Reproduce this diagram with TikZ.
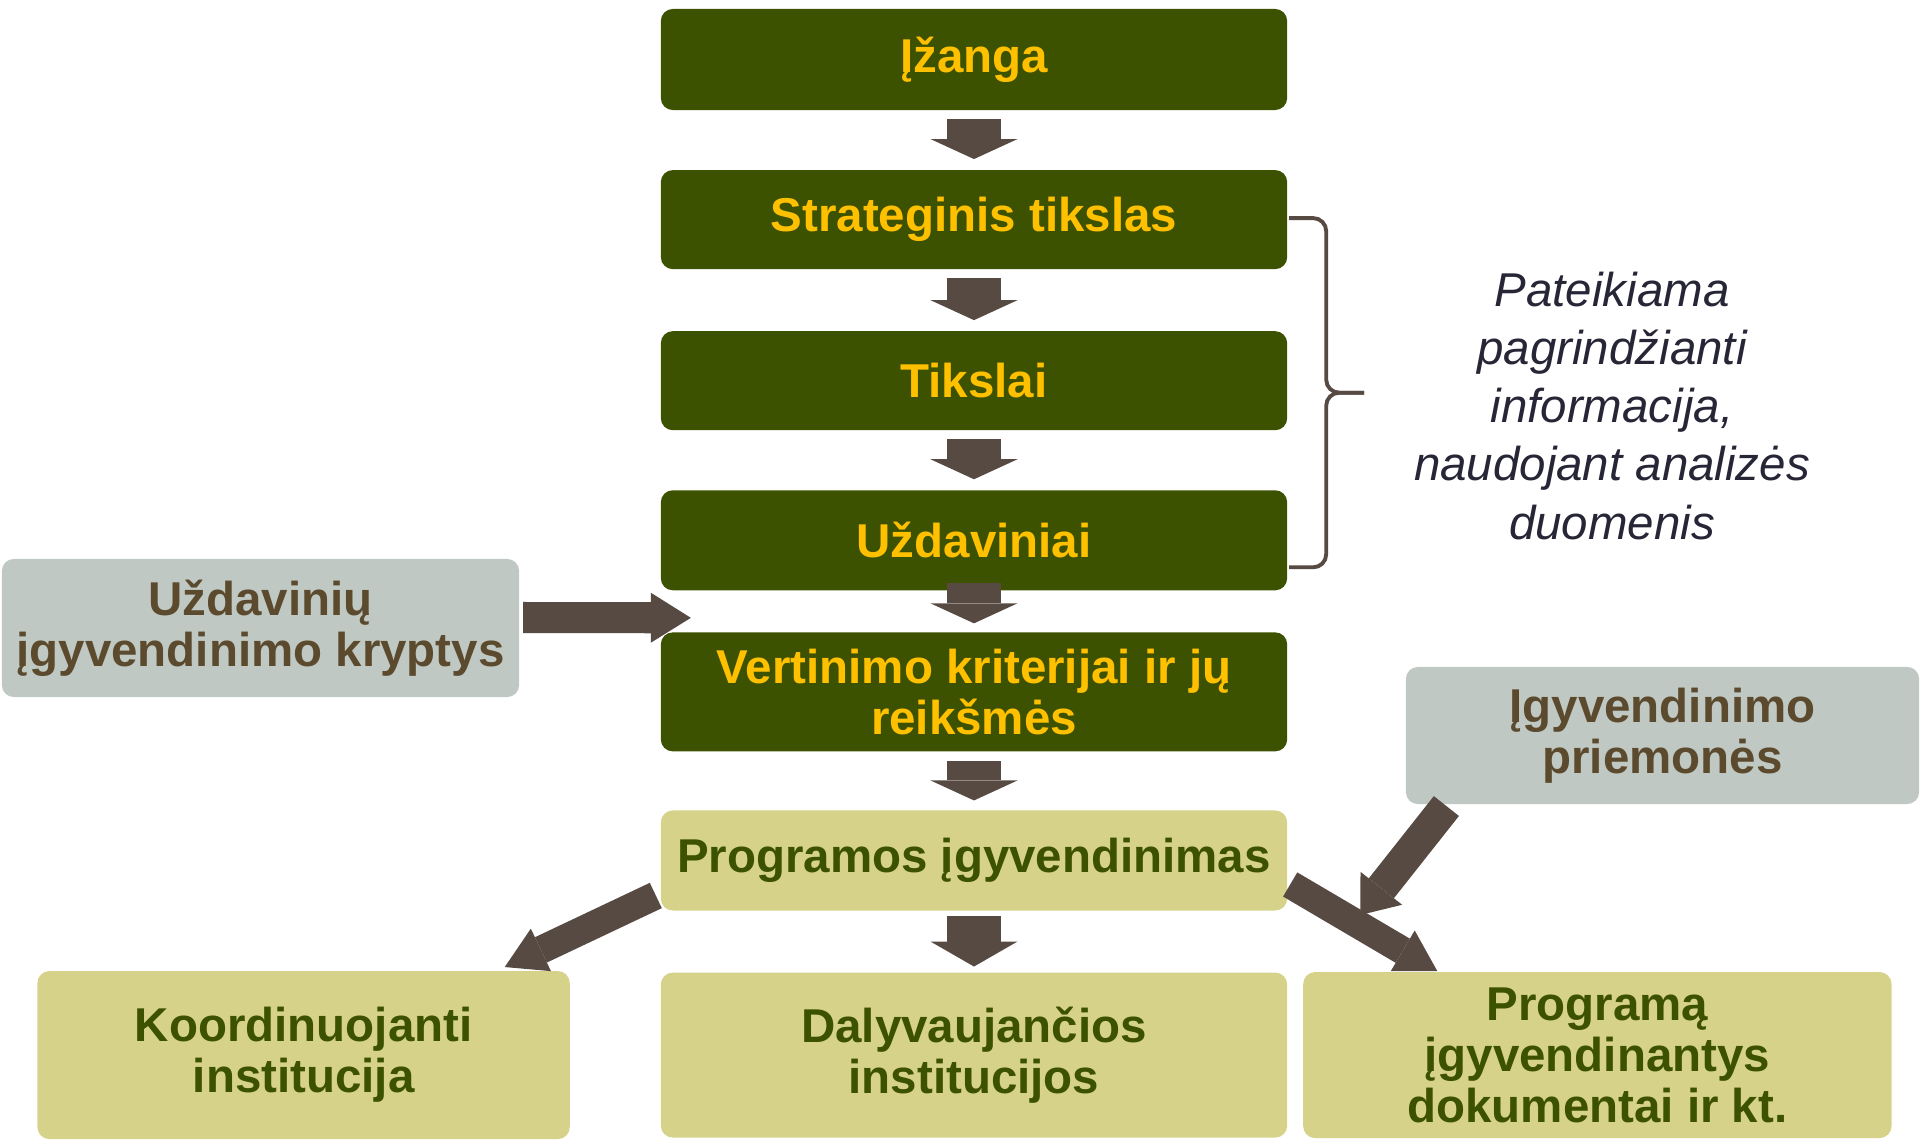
\documentclass[tikz,border=0pt]{standalone}
\usepackage{fontspec}
\setmainfont{Liberation Sans}
\usepackage{tikz}
\usetikzlibrary{positioning, arrows.meta, calc}
\definecolor{boxdark}{HTML}{3D5200}
\definecolor{boxlight}{HTML}{D6D28A}
\definecolor{boxgray}{HTML}{BFC8C2}
\definecolor{txtgold}{HTML}{FFC000}
\definecolor{txtbrown}{HTML}{5C4A2E}
\definecolor{arrowc}{HTML}{574A42}
\definecolor{notec}{HTML}{262636}

\begin{document}
\begin{tikzpicture}[
  x=0.01cm, y=-0.01cm,
  node distance=0.6cm and 0.16cm,
  box/.style={rounded corners=0.12cm, align=center, inner sep=0pt, outer sep=0pt,
              minimum width=6.26cm, minimum height=1cm,
              font=\bfseries\fontsize{13.5}{14.5}\selectfont},
  darkbox/.style={box, fill=boxdark, text=txtgold},
  lightbox/.style={box, fill=boxlight, text=boxdark},
  graybox/.style={box, fill=boxgray, text=txtbrown},
  down/.style={draw=arrowc, line width=0.53cm, shorten <=0.09cm, shorten >=0.11cm,
               -{Triangle[width=0.87cm, length=0.2cm, line width=0pt]}},
  slant/.style={draw=arrowc, line width=0.28cm,
                -{Triangle[width=0.47cm, length=0.4cm, line width=0pt]}},
  bracel/.style={draw=arrowc, line width=1.1pt, rounded corners=0.13cm}
]
\useasboundingbox (0,0) rectangle (1920,1145);

% main column
\node[darkbox, minimum height=1.01cm] (izanga) at (974,59.5) {Įžanga};
\node[darkbox, below=of izanga, minimum height=0.99cm] (strat) {Strateginis tikslas};
\node[darkbox, below=0.62cm of strat, minimum height=0.99cm] (tikslai) {Tikslai};
\node[darkbox, below=of tikslai] (uzd) {Uždaviniai};
\node[darkbox, below=0.42cm of uzd, minimum height=1.19cm] (vert) {Vertinimo kriterijai ir jų\\reikšmės};
\node[lightbox, below=0.59cm of vert] (prog) {Programos įgyvendinimas};

% bottom row
\node[lightbox, below=0.62cm of prog, minimum height=1.65cm] (daly) {Dalyvaujančios\\institucijos};
\node[lightbox, left=0.91cm of daly, minimum width=5.32cm, minimum height=1.68cm] (koord) {Koordinuojanti\\institucija};
\node[lightbox, right=of daly, minimum width=5.88cm, minimum height=1.66cm] (progdok) {Programą\\įgyvendinantys\\dokumentai ir kt.};

% side boxes
\node[graybox, minimum width=5.17cm, minimum height=1.38cm] (uzdkr) at (260.5,628) {Uždavinių\\įgyvendinimo kryptys};
\node[graybox, minimum width=5.13cm, minimum height=1.37cm] (igpr) at (1662.5,735.5) {Įgyvendinimo\\priemonės};

\node[font=\itshape\fontsize{13.5}{16.5}\selectfont, text=notec, align=center] (note) at (1612,406)
  {Pateikiama\\pagrindžianti\\informacija,\\naudojant analizės\\duomenis};

% brace
\coordinate (bt) at ([xshift=0.02cm, yshift=0.015cm]strat.east);
\coordinate (bb) at ([xshift=0.02cm, yshift=-0.27cm]uzd.east);
\coordinate (bm) at ([xshift=0.75cm]$(bt)!0.5!(bb)$);
\draw[bracel] (bt) -| ([xshift=-0.38cm]bm) -- (bm);
\draw[bracel] (bb) -| ([xshift=-0.38cm]bm) -- (bm);

% arrows
\draw[down] (izanga) -- (strat);
\draw[down] (strat) -- (tikslai);
\draw[down] (tikslai) -- (uzd);
\draw[down, shorten <=-0.07cm, shorten >=0.09cm] (uzd) -- (vert);
\draw[down, shorten <=0.1cm, shorten >=0.1cm] (vert) -- (prog);
\draw[down, shorten <=0.05cm, shorten >=0.06cm,
      -{Triangle[width=0.87cm, length=0.25cm, line width=0pt]}] (prog) -- (daly);

\coordinate (hs) at ([xshift=0.04cm, yshift=0.105cm]uzdkr.east);
\coordinate (he) at ([xshift=0.3cm, yshift=0.145cm]vert.north west);
\draw[draw=arrowc, line width=0.31cm,
      -{Triangle[width=0.5cm, length=0.4cm, line width=0pt]}] (hs) -- (he);

\coordinate (as) at ([xshift=-0.05cm, yshift=0.15cm]prog.south west);
\coordinate (ae) at ([xshift=-0.65cm, yshift=0.04cm]koord.north east);
\draw[slant] (as) -- (ae);

\coordinate (bs) at ([xshift=0.03cm, yshift=0.26cm]prog.south east);
\coordinate (be) at ([xshift=1.34cm, yshift=0.01cm]progdok.north west);
\draw[slant] (bs) -- (be);

\coordinate (cs) at ([xshift=0.405cm, yshift=-0.02cm]igpr.south west);
\coordinate (ce) at ([xshift=0.57cm, yshift=0.57cm]progdok.north west);
\draw[draw=arrowc, line width=0.32cm,
      -{Triangle[width=0.53cm, length=0.34cm, line width=0pt]}] (cs) -- (ce);
\end{tikzpicture}
\end{document}
